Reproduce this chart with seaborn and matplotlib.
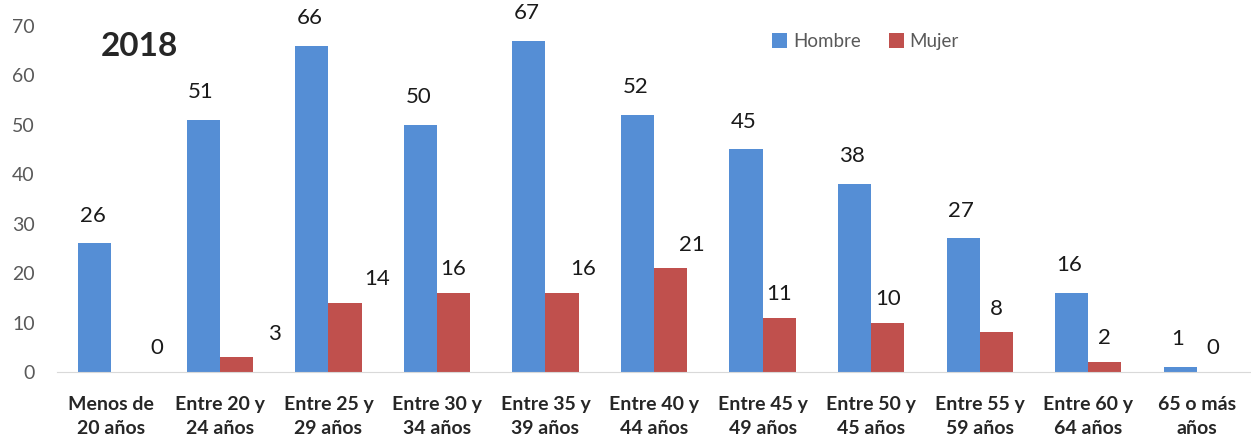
import pandas as pd
import seaborn as sns
import matplotlib.pyplot as plt

# Data
grupos = ['Menos de\n20 años', 'Entre 20 y\n24 años', 'Entre 25 y\n29 años', 'Entre 30 y\n34 años',
          'Entre 35 y\n39 años', 'Entre 40 y\n44 años', 'Entre 45 y\n49 años', 'Entre 50 y\n45 años',
          'Entre 55 y\n59 años', 'Entre 60 y\n64 años', '65 o más\naños']
hombre = [26, 51, 66, 50, 67, 52, 45, 38, 27, 16, 1]
mujer = [0, 3, 14, 16, 16, 21, 11, 10, 8, 2, 0]

# horizontal shift of the Mujer labels (Excel placed some of them off-centre)
mujer_dx = [0.27, 0.35, 0.30, 0, 0.19, 0.2, 0, 0, 0, 0, 0]

df = pd.DataFrame({
    'grupo': grupos * 2,
    'sexo': ['Hombre'] * len(grupos) + ['Mujer'] * len(grupos),
    'valor': hombre + mujer,
})

sns.set_style('white')
plt.rcParams['font.family'] = ['Lato', 'DejaVu Sans']

fig = plt.figure(figsize=(12.51, 4.41), dpi=100)
ax = fig.add_axes([0.0456, 0.1565, 0.9544, 0.785])

sns.barplot(data=df, x='grupo', y='valor', hue='sexo', palette=['#558ED5', '#C0504D'],
            width=0.61, saturation=1, ax=ax, errorbar=None, linewidth=0)

ax.set_ylim(0, 70)
ax.set_xlim(-0.5, len(grupos) - 0.5)
ax.set_yticks(range(0, 71, 10))
ax.set_xlabel('')
ax.set_ylabel('')
ax.tick_params(axis='y', labelsize=14, labelcolor='#595959', pad=16, length=0)
ax.tick_params(axis='x', labelsize=14, pad=17, length=0)
for lbl in ax.get_xticklabels():
    lbl.set_fontweight('bold')
    lbl.set_linespacing(1.55)

for s in ['top', 'right', 'left']:
    ax.spines[s].set_visible(False)
ax.spines['bottom'].set_color('#D9D9D9')

# data labels
for i, bar in enumerate(ax.containers[0]):
    ax.annotate(f'{hombre[i]}', (bar.get_x() + bar.get_width() / 2 - 0.02, bar.get_height()),
                xytext=(0, 20), textcoords='offset points', ha='center', va='center',
                fontsize=16, color='#1a1a1a', annotation_clip=False)
for i, bar in enumerate(ax.containers[1]):
    ax.annotate(f'{mujer[i]}', (bar.get_x() + bar.get_width() / 2 + mujer_dx[i], bar.get_height()),
                xytext=(0, 17), textcoords='offset points', ha='center', va='center',
                fontsize=16, color='#1a1a1a', annotation_clip=False)

ax.text(0.037, 0.94, '2018', transform=ax.transAxes, fontsize=24, fontweight='bold',
        ha='left', va='center')

ax.legend(loc='center', bbox_to_anchor=(0.677, 0.955), ncol=2, frameon=False,
          handlelength=0.8, handleheight=0.8, handletextpad=0.3, columnspacing=1.5,
          fontsize=13.5, labelcolor='#595959')

fig.savefig('out.png', dpi=100)
